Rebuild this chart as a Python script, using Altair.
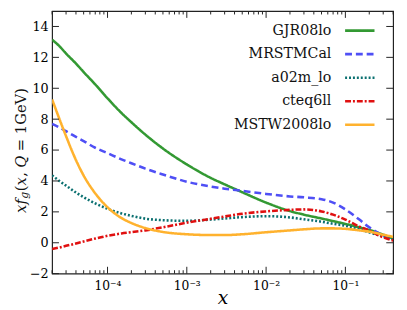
import altair as alt
import pandas as pd

# ---- data ----
x_vals = [2e-5, 2.5e-5, 3e-5, 4e-5, 5e-5, 7e-5, 1e-4, 1.5e-4, 2e-4, 3e-4, 5e-4,
          1e-3, 2e-3, 3e-3, 5e-3, 1e-2, 2e-2, 3e-2, 5e-2, 7e-2, 0.1, 0.15, 0.2, 0.3, 0.4]
gjr08lo = [13.15, 12.7, 12.25, 11.6, 11.05, 10.25, 9.35, 8.4, 7.8, 7.0, 6.1,
           5.07, 4.2, 3.78, 3.27, 2.6, 2.05, 1.82, 1.57, 1.4, 1.22, 1.0, 0.83, 0.52, 0.27]
mrstmcal = [7.7, 7.45, 7.22, 6.85, 6.58, 6.15, 5.8, 5.4, 5.15, 4.8, 4.42,
            3.95, 3.64, 3.5, 3.36, 3.16, 3.0, 2.94, 2.82, 2.6, 2.16, 1.5, 1.0, 0.45, 0.15]
a02m_lo = [4.36, 3.98, 3.7, 3.25, 2.95, 2.55, 2.2, 1.9, 1.74, 1.56, 1.46,
           1.42, 1.5, 1.57, 1.66, 1.72, 1.64, 1.52, 1.36, 1.23, 1.1, 0.88, 0.67, 0.42, 0.25]
cteq6ll = [-0.4, -0.3, -0.2, -0.05, 0.08, 0.27, 0.45, 0.6, 0.68, 0.8, 1.0,
           1.3, 1.55, 1.7, 1.88, 2.03, 2.13, 2.16, 2.03, 1.82, 1.5, 1.05, 0.78, 0.35, 0.15]
mstw2008lo = [9.28, 7.95, 6.9, 5.35, 4.35, 3.2, 2.3, 1.6, 1.28, 0.95, 0.7,
              0.55, 0.5, 0.5, 0.55, 0.68, 0.8, 0.87, 0.93, 0.93, 0.9, 0.8, 0.72, 0.52, 0.38]

names = ["GJR08lo", "MRSTMCal", "a02m_lo", "cteq6ll", "MSTW2008lo"]
series = [gjr08lo, mrstmcal, a02m_lo, cteq6ll, mstw2008lo]
colors = ["#339933", "#4f4ff5", "#0b7070", "#e01010", "#ffb22e"]
dashes = [[1, 0], [7, 4], [2, 2], [6, 2, 2, 2], [1, 0]]

y_ticks = [-2, 0, 2, 4, 6, 8, 10, 12, 14]
x_major = [1e-4, 1e-3, 1e-2, 1e-1]
x_minor = [m * d for d in [1e-5, 1e-4, 1e-3, 1e-2, 1e-1] for m in range(2, 10)
           if 2e-5 <= m * d <= 0.4]

W, H = 348, 268
FONT = "DejaVu Serif"

xscale = alt.Scale(type="log", domain=[2e-5, 0.4], nice=False)
yscale = alt.Scale(domain=[-2, 15], nice=False, zero=False)

label_expr = ("datum.value < 0.0005 ? '10⁻⁴' : datum.value < 0.005 ? '10⁻³' : "
              "datum.value < 0.05 ? '10⁻²' : '10⁻¹'")
xaxis = alt.Axis(values=x_major, labelExpr=label_expr, ticks=False, domain=False,
                 grid=False, labelFont=FONT, labelFontSize=12.5, labelColor="black",
                 labelPadding=6, title="x", titleFont=FONT, titleFontSize=19,
                 titleFontStyle="italic", titleFontWeight="normal",
                 titleColor="black", titlePadding=-3)
yaxis = alt.Axis(values=y_ticks, ticks=False, domain=False, grid=False,
                 labelFont=FONT, labelFontSize=13, labelColor="black",
                 labelPadding=4, title=None)

layers = []
for i, (nm, s) in enumerate(zip(names, series)):
    df = pd.DataFrame({"x": x_vals, "y": s})
    layers.append(alt.Chart(df).mark_line(color=colors[i], strokeWidth=2.6,
                                          strokeDash=dashes[i], interpolate="monotone",
                                          clip=True).encode(
        x=alt.X("x:Q", scale=xscale, axis=xaxis),
        y=alt.Y("y:Q", scale=yscale, axis=yaxis)))

# inward ticks
ydf = pd.DataFrame({"y": y_ticks})
xmaj = pd.DataFrame({"x": x_major})
xmin = pd.DataFrame({"x": x_minor})
tick_color = "#222222"
for side in ["left", "right"]:
    x0, x1 = (0, 7) if side == "left" else (W - 7, W)
    layers.append(alt.Chart(ydf).mark_rule(color=tick_color, strokeWidth=1).encode(
        y=alt.Y("y:Q", scale=yscale, axis=yaxis), x=alt.value(x0), x2=alt.value(x1)))
for dfx, L in [(xmaj, 7), (xmin, 3.5)]:
    layers.append(alt.Chart(dfx).mark_rule(color=tick_color, strokeWidth=1).encode(
        x=alt.X("x:Q", scale=xscale, axis=xaxis), y=alt.value(H - L), y2=alt.value(H)))
    layers.append(alt.Chart(dfx).mark_rule(color=tick_color, strokeWidth=1).encode(
        x=alt.X("x:Q", scale=xscale, axis=xaxis), y=alt.value(0), y2=alt.value(L)))

# legend (labels on the left, line samples on the right)
leg_y0, leg_dy = 20, 24
for i, nm in enumerate(names):
    yy = leg_y0 + i * leg_dy
    layers.append(alt.Chart(pd.DataFrame({"t": [nm]})).mark_text(
        align="right", baseline="middle", font=FONT, fontSize=14.5, color="#111111").encode(
        text="t:N", x=alt.value(285), y=alt.value(yy)))
    layers.append(alt.Chart(pd.DataFrame({"t": [nm]})).mark_rule(
        color=colors[i], strokeWidth=2.6, strokeDash=dashes[i]).encode(
        x=alt.value(299), x2=alt.value(329), y=alt.value(yy)))

# y-axis title: x f_g(x, Q = 1GeV)
TX = -32
pieces = [("xf", 206, 15, "italic", 0), ("g", 191.5, 11, "italic", 4),
          ("(", 184, 15, "normal", 0), ("x", 178, 15, "italic", 0),
          (",", 169, 15, "normal", 0), ("Q", 160, 15, "italic", 0),
          ("= 1GeV)", 143, 15, "normal", 0)]
for txt, yy, fs, st, off in pieces:
    layers.append(alt.Chart(pd.DataFrame({"t": [txt]})).mark_text(
        align="left", baseline="middle", angle=270, font=FONT, fontSize=fs,
        fontStyle=st, color="#111111").encode(
        text="t:N", x=alt.value(TX + off), y=alt.value(yy)))

chart = alt.layer(*layers).properties(
    width=W, height=H,
    autosize=alt.AutoSizeParams(type="none"),
    padding={"left": 45, "top": 0, "right": 6, "bottom": 34},
).configure_view(stroke="#222222", strokeWidth=1.2)

chart.save("out.html", embed_options={"renderer": "svg", "actions": False})
